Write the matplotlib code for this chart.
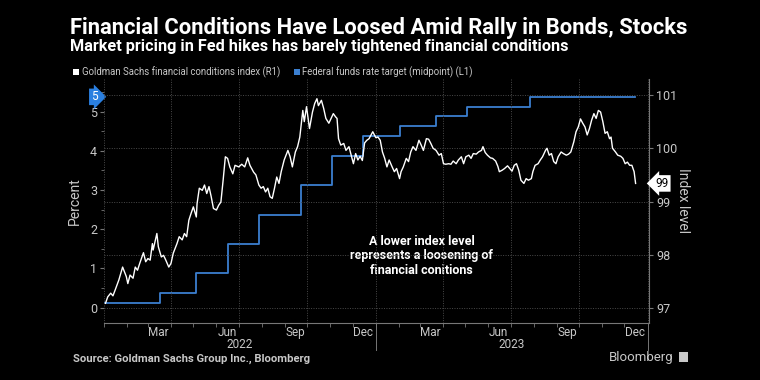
import matplotlib
matplotlib.use("Agg")
import matplotlib.pyplot as plt
import matplotlib.dates as mdates
import matplotlib.transforms as mtransforms
from matplotlib.lines import Line2D
import pandas as pd
import numpy as np

plt.rcParams['font.family'] = ['Roboto', 'DejaVu Sans']

# ---------------- data ----------------
start = pd.Timestamp("2022-01-01")

# Goldman Sachs financial conditions index (R1): day offset from 2022-01-01, index level
fci_day = [2, 5, 9, 12, 15, 20, 25, 30, 32, 35, 39, 42, 45, 48, 53, 56, 59, 62, 65, 66,
           71, 73, 77, 80, 83, 87, 90, 93, 98, 101, 105, 108, 111, 114, 117, 120, 124, 125, 128, 132,
           135, 138, 141, 144, 147, 151, 154, 157, 160, 163, 166, 169, 173, 176, 181, 185, 189, 193, 196, 201,
           204, 208, 211, 214, 217, 220, 223, 226, 229, 232, 235, 238, 242, 247, 250, 253, 257, 260, 263, 267,
           269, 272, 276, 280, 283, 286, 288, 292, 295, 298, 302, 305, 308, 311, 313, 315, 318, 322, 325, 329,
           332, 335, 338, 341, 344, 347, 350, 353, 356, 361, 365, 368, 371, 374, 377, 380, 383, 387, 390, 393,
           397, 399, 402, 406, 409, 412, 415, 419, 423, 426, 429, 433, 436, 439, 442, 446, 450, 453, 456, 459,
           463, 466, 469, 473, 476, 480, 483, 486, 490, 493, 496, 500, 503, 507, 509, 512, 515, 519, 522, 526,
           529, 531, 535, 538, 542, 545, 548, 551, 554, 557, 560, 564, 567, 570, 574, 576, 579, 583, 586, 589,
           593, 595, 598, 601, 604, 607, 610, 614, 617, 621, 624, 627, 631, 634, 637, 640, 643, 646, 649, 652,
           655, 658, 661, 664, 667, 670, 673, 676, 679, 681, 683, 687, 690, 694, 697, 700, 703, 706, 709, 712,
           714]
fci_value = [97.09, 97.21, 97.28, 97.23, 97.34, 97.53, 97.77, 97.59, 97.46, 97.62, 97.56, 97.77, 97.71, 97.84, 98.04, 97.87, 97.93, 97.90, 98.21, 98.09,
             98.40, 98.15, 97.96, 97.99, 97.90, 97.77, 97.84, 98.03, 98.21, 98.34, 98.28, 98.40, 98.34, 98.65, 98.78, 98.90, 98.71, 98.96, 99.25, 99.21,
             99.31, 99.15, 99.28, 99.09, 98.87, 98.84, 98.93, 98.99, 99.40, 99.84, 99.81, 99.65, 99.52, 99.68, 99.65, 99.70, 99.65, 99.82, 99.68, 99.55,
             99.50, 99.31, 99.25, 99.28, 99.18, 99.25, 99.09, 99.06, 99.25, 99.46, 99.34, 99.56, 99.78, 99.96, 99.84, 99.65, 99.93, 100.03, 100.21, 100.71,
             100.50, 100.78, 100.37, 100.68, 100.84, 100.93, 100.80, 100.90, 100.75, 100.56, 100.47, 100.56, 100.65, 100.59, 100.56, 100.18, 100.06, 100.09, 99.96, 100.03,
             99.87, 99.71, 99.90, 99.78, 99.85, 99.77, 100.10, 100.15, 100.18, 100.31, 100.20, 100.21, 100.15, 99.93, 99.81, 99.65, 99.78, 99.65, 99.56, 99.62,
             99.43, 99.56, 99.65, 99.81, 99.75, 99.93, 100.03, 99.96, 100.15, 100.06, 99.96, 100.18, 100.17, 100.09, 100.00, 99.96, 99.87, 99.90, 99.71, 99.70,
             99.71, 99.70, 99.76, 99.71, 99.78, 99.84, 99.71, 99.84, 99.87, 99.81, 99.90, 99.89, 99.93, 99.96, 100.03, 99.92, 99.87, 99.82, 99.81, 99.76,
             99.66, 99.56, 99.59, 99.62, 99.67, 99.62, 99.57, 99.68, 99.71, 99.59, 99.40, 99.34, 99.43, 99.40, 99.43, 99.56, 99.68, 99.71, 99.78, 99.84,
             99.96, 100.00, 99.87, 99.90, 99.75, 99.71, 99.84, 99.93, 99.90, 99.87, 99.89, 99.93, 100.12, 100.31, 100.40, 100.55, 100.47, 100.40, 100.25, 100.37,
             100.53, 100.65, 100.56, 100.71, 100.68, 100.50, 100.28, 100.31, 100.18, 100.21, 100.00, 99.93, 99.87, 99.85, 99.81, 99.71, 99.74, 99.68, 99.68, 99.56,
             99.34]

# Federal funds rate target midpoint (L1): change dates and levels
ffr_dates = ["2022-01-01", "2022-03-17", "2022-05-05", "2022-06-16", "2022-07-28", "2022-09-22",
             "2022-11-03", "2022-12-15", "2023-02-02", "2023-03-23", "2023-05-04", "2023-07-27", "2023-12-15"]
ffr_values = [0.125, 0.375, 0.875, 1.625, 2.375, 3.125, 3.875, 4.375, 4.625, 4.875, 5.125, 5.375, 5.375]

left_ticks = [0, 1, 2, 3, 4, 5]
right_ticks = [97, 98, 99, 100, 101]
year_labels = ["2022", "2023"]

title = "Financial Conditions Have Loosed Amid Rally in Bonds, Stocks"
subtitle = "Market pricing in Fed hikes has barely tightened financial conditions"
legend_fci = "Goldman Sachs financial conditions index (R1)"
legend_ffr = "Federal funds rate target (midpoint) (L1)"
note = "A lower index level\nrepresents a loosening of\nfinancial conitions"
source = "Source: Goldman Sachs Group Inc., Bloomberg"

# ---------------- styling ----------------
BG = "black"
GRID = "#4a4a4a"
TXT = "#c8c8c8"
BLUE = "#3b7fd0"

fci_dates = start + pd.to_timedelta(fci_day, unit="D")
ffr_dt = pd.to_datetime(ffr_dates)

fig = plt.figure(figsize=(7.6, 3.8), dpi=100, facecolor=BG)
ax = fig.add_axes([104/760, 1-323/380, (649-104)/760, (323-79)/380])
ax.set_facecolor(BG)
ax2 = ax.twinx()

# Fed funds step line
ax.step(ffr_dt, ffr_values, where="post", color=BLUE, lw=1.3, zorder=3)
ax.set_ylim(-0.39, 5.83)
ax.set_yticks(left_ticks)
ax.set_yticks(np.arange(0, 5.51, 0.5), minor=True)

# FCI line
ax2.plot(fci_dates, fci_value, color="white", lw=1.0, zorder=4)
ax2.set_ylim(96.72, 101.30)
ax2.set_yticks(right_ticks)

# horizontal grid from right axis
for v in right_ticks:
    ax2.axhline(v, color=GRID, lw=0.7, ls=(0, (1, 1.5)), zorder=1)
# vertical grid at quarter boundaries
for d in pd.date_range("2022-01-01", "2024-01-01", freq="QS"):
    ax2.axvline(d, color=GRID, lw=0.7, ls=(0, (1, 1.5)), zorder=1)

ax.set_xlim(pd.Timestamp("2022-01-01"), pd.Timestamp("2024-01-03"))

# x ticks
ax.xaxis.set_major_locator(mdates.MonthLocator(bymonth=(3, 6, 9, 12), bymonthday=15))
ax.xaxis.set_major_formatter(mdates.DateFormatter("%b"))
ax.xaxis.set_minor_locator(mdates.MonthLocator(bymonthday=1))
ax.tick_params(axis="x", which="major", length=0, pad=2, colors=TXT, labelsize=8.5)
ax.tick_params(axis="x", which="minor", length=3, color="#777777", direction="out")

ax.tick_params(axis="y", which="major", length=3, color="#777777", labelcolor=TXT, labelsize=9, pad=2)
ax.tick_params(axis="y", which="minor", length=2, color="#777777")
ax2.tick_params(axis="y", which="major", length=3, color="#777777", labelcolor=TXT, labelsize=9, pad=2)

for a in (ax, ax2):
    for s in ("top", "left"):
        a.spines[s].set_visible(False)
    a.spines["bottom"].set_color("#777777")
    a.spines["right"].set_color("#777777")
ax.spines["right"].set_visible(False)
ax2.spines["bottom"].set_visible(False)

ax.set_ylabel("Percent", color=TXT, fontsize=10, labelpad=6)
ax2.set_ylabel("Index level", color=TXT, fontsize=10, rotation=270, labelpad=9)

# year labels and separators
tb = mtransforms.blended_transform_factory(ax.transData, ax.transAxes)
for yl in year_labels:
    mid = pd.Timestamp(f"{yl}-07-02")
    ax.text(mid, -0.088, yl, transform=tb, ha="center", va="center", color=TXT, fontsize=8.5)
for ystart in ["2023-01-01", "2024-01-01"]:
    xd = mdates.date2num(pd.Timestamp(ystart))
    ax.add_line(Line2D([xd, xd], [0, -0.11], transform=tb, color="#777777", lw=0.7, clip_on=False))

# value flags
tl = mtransforms.blended_transform_factory(ax.transAxes, ax.transData)
ax.text(-0.012, ffr_values[-1], "5", transform=tl, ha="right", va="center", color="white", fontsize=8.5,
        bbox=dict(boxstyle="rarrow,pad=0.15", fc="#2a7fe0", ec="none"))
tr = mtransforms.blended_transform_factory(ax2.transAxes, ax2.transData)
ax2.text(1.012, fci_value[-1], f"{fci_value[-1]:.0f}", transform=tr, ha="left", va="center", color="black",
         fontsize=8.5, bbox=dict(boxstyle="larrow,pad=0.15", fc="white", ec="none"))

# annotation
ax.text(0.583, 0.275, note, transform=ax.transAxes, ha="center", va="center", color="white",
        fontsize=9.0, fontweight="bold", linespacing=1.15)

# titles and legend
fig.text(70/760, 1-28/380, title, color="white", fontsize=15.8, fontweight="bold", va="center", ha="left")
fig.text(70/760, 1-47/380, subtitle, color="white", fontsize=11.7, fontweight="bold", va="center", ha="left")

fig.patches.append(plt.Rectangle((73/760, 1-75/380), 6/760, 6/380, transform=fig.transFigure, fc="white", ec="none"))
fig.text(82/760, 1-72/380, legend_fci, color=TXT, fontsize=6.9, va="center", ha="left")
fig.patches.append(plt.Rectangle((294/760, 1-75/380), 6/760, 6/380, transform=fig.transFigure, fc=BLUE, ec="none"))
fig.text(302/760, 1-72/380, legend_ffr, color=TXT, fontsize=6.9, va="center", ha="left")

fig.text(73/760, 1-358.5/380, source, color=TXT, fontsize=8.1, fontweight="bold", va="center", ha="left")
fig.text(673/760, 1-357/380, "Bloomberg", color=TXT, fontsize=9.5, va="center", ha="right")
fig.patches.append(plt.Rectangle((679/760, 1-362/380), 9/760, 10/380, transform=fig.transFigure, fc=TXT, ec="none"))

fig.savefig("out.png", dpi=100, facecolor=BG)
